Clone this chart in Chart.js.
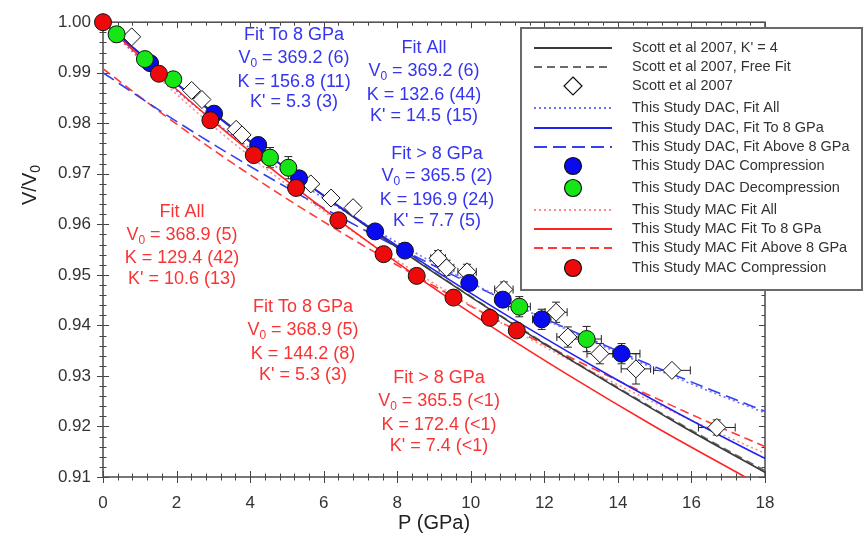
<!DOCTYPE html>
<html>
<head>
<meta charset="utf-8">
<script src="https://cdn.jsdelivr.net/npm/chart.js@4.4.1/dist/chart.umd.min.js"></script>
<style>
  html, body { margin: 0; padding: 0; background: #fff; }
</style>
</head>
<body>
<canvas id="eos" width="865" height="539"></canvas>
<script>
// ---- measured points (P in GPa, V/V0) ----
var macP  = [0, 1.52, 2.92, 4.10, 5.25, 6.40, 7.63, 8.53, 9.53, 10.52, 11.25];
var macV  = [1.0000, 0.9898, 0.9806, 0.9737, 0.9672, 0.9608, 0.9541, 0.9498, 0.9455, 0.9415, 0.9390];

var dacCompP = [1.28, 3.02, 4.22, 5.33, 7.40, 8.21, 9.96, 10.87, 11.93, 14.10];
var dacCompV = [0.9919, 0.9819, 0.9757, 0.9691, 0.9586, 0.9548, 0.9484, 0.9451, 0.9412, 0.9344];
var dacCompPErr = [0.05, 0.05, 0.05, 0.05, 0.1, 0.1, 0.15, 0.2, 0.25, 0.5];
var dacCompVErr = [0.0005, 0.0005, 0.0008, 0.001, 0.001, 0.001, 0.0015, 0.0015, 0.002, 0.002];

var dacDecP = [0.37, 1.14, 1.91, 4.54, 5.04, 11.32, 13.15];
var dacDecV = [0.9976, 0.9927, 0.9887, 0.9732, 0.9712, 0.9437, 0.9373];
var dacDecPErr = [0.05, 0.05, 0.05, 0.1, 0.1, 0.3, 0.4];
var dacDecVErr = [0.0015, 0.001, 0.001, 0.002, 0.0022, 0.002, 0.0025];

var scottP = [0.78, 2.41, 2.69, 3.62, 3.78, 5.65, 6.20, 6.80, 9.11, 9.34, 9.90, 10.90, 12.32, 12.64, 13.51, 14.49, 15.47, 16.69];
var scottV = [0.9971, 0.9865, 0.9847, 0.9788, 0.9777, 0.9680, 0.9652, 0.9633, 0.9533, 0.9514, 0.9506, 0.9471, 0.9426, 0.9377, 0.9344, 0.9314, 0.9311, 0.9198];
var scottPErr = [0.1, 0.1, 0.1, 0.1, 0.1, 0.15, 0.15, 0.15, 0.2, 0.2, 0.25, 0.25, 0.3, 0.3, 0.35, 0.4, 0.5, 0.5];
var scottVErr = [0.0008, 0.0008, 0.0008, 0.0008, 0.0008, 0.001, 0.001, 0.001, 0.0015, 0.0015, 0.0015, 0.0015, 0.002, 0.002, 0.002, 0.003, 0.001, 0.0015];

// ---- fitted EOS curves ----
var eosV      = [1.00, 0.99, 0.98, 0.97, 0.96, 0.95, 0.94, 0.93, 0.92, 0.91];
var scottK4P  = [0, 1.64, 3.37, 5.18, 7.09, 9.09, 11.20, 13.43, 15.76, 18.23];
var scottFreeP= [0, 1.64, 3.37, 5.19, 7.10, 9.11, 11.23, 13.47, 15.82, 18.31];
var dacAllP   = [0, 1.43, 3.09, 4.99, 7.15, 9.60, 12.37, 15.47, 18.95];
var dacTo8P   = [0, 1.62, 3.34, 5.18, 7.13, 9.21, 11.43, 13.79, 16.31, 18.99];
var dacAbvP   = [0, 2.06, 4.30, 6.74, 9.39, 12.27, 15.40, 18.80];
var dacAbvV   = [0.9900, 0.9801, 0.9702, 0.9603, 0.9504, 0.9405, 0.9306, 0.9207];
var macAllP   = [0, 1.37, 2.90, 4.61, 6.51, 8.62, 10.95, 13.52, 16.36, 19.47];
var macTo8P   = [0, 1.49, 3.07, 4.76, 6.56, 8.47, 10.51, 12.69, 15.00, 17.46];
var macAbvP   = [0, 1.80, 3.75, 5.87, 8.17, 10.67, 13.37, 16.30, 19.46];
var macAbvV   = [0.9908, 0.9809, 0.9710, 0.9611, 0.9512, 0.9412, 0.9313, 0.9214, 0.9115];

var FONT = '"Liberation Sans", Arial, sans-serif';
var BLUE = '#2323ee', RED = '#ff2424', TBLUE = '#3434f2', TRED = '#f83434';

function pts(p, v) {
  return p.map(function(x, i) { return {x: x, y: v[i]}; });
}
function curve(label, p, v, color, dash, order) {
  return {label: label, data: pts(p, v), showLine: true, borderColor: color, borderWidth: 1.6,
          borderDash: dash, pointRadius: 0, cubicInterpolationMode: 'monotone', order: order, kind: 'line'};
}
function marks(label, p, v, fill, style, r, order, pe, ve) {
  return {label: label, data: pts(p, v), showLine: false, pointStyle: style, pointRadius: r,
          pointBackgroundColor: fill, pointBorderColor: '#111', pointBorderWidth: 1, clip: false,
          order: order, kind: 'mark', xErr: pe, yErr: ve};
}

var datasets = [
  curve("Scott et al 2007, K' = 4", scottK4P, eosV, '#3a3a3a', [], 10),
  curve('Scott et al 2007, Free Fit', scottFreeP, eosV, '#6a6a6a', [8, 5], 11),
  marks('Scott et al 2007', scottP, scottV, '#fff', 'rectRot', 9, 4, scottPErr, scottVErr),
  curve('This Study DAC, Fit All', dacAllP, eosV, '#7070ff', [2, 3], 12),
  curve('This Study DAC, Fit To 8 GPa', dacTo8P, eosV, BLUE, [], 9),
  curve('This Study DAC, Fit Above 8 GPa', dacAbvP, dacAbvV, '#3340ee', [13, 6], 13),
  marks('This Study DAC Compression', dacCompP, dacCompV, '#0a0aee', 'circle', 8.5, 2, dacCompPErr, dacCompVErr),
  marks('This Study DAC Decompression', dacDecP, dacDecV, '#16e616', 'circle', 8.5, 1, dacDecPErr, dacDecVErr),
  curve('This Study MAC Fit All', macAllP, eosV, '#ff8a8a', [2, 3], 14),
  curve('This Study MAC Fit To 8 GPa', macTo8P, eosV, RED, [], 8),
  curve('This Study MAC Fit Above 8 GPa', macAbvP, macAbvV, '#ff3a3a', [9, 5], 15),
  marks('This Study MAC Compression', macP, macV, '#ee0a0a', 'circle', 8.5, 0)
];

// annotation blocks: centre x, line centre y list, lines
var notes = [
  {c: TBLUE, x: 294, y: [35, 58, 82, 102], t: ['Fit To 8 GPa', ['V', '0', ' = 369.2 (6)'], 'K = 156.8 (11)', "K' = 5.3 (3)"]},
  {c: TBLUE, x: 424, y: [48, 71, 95, 116], t: ['Fit All', ['V', '0', ' = 369.2 (6)'], 'K = 132.6 (44)', "K' = 14.5 (15)"]},
  {c: TBLUE, x: 437, y: [154, 176, 200, 221], t: ['Fit > 8 GPa', ['V', '0', ' = 365.5 (2)'], 'K = 196.9 (24)', "K' = 7.7 (5)"]},
  {c: TRED, x: 182, y: [212, 235, 258, 279], t: ['Fit All', ['V', '0', ' = 368.9 (5)'], 'K = 129.4 (42)', "K' = 10.6 (13)"]},
  {c: TRED, x: 303, y: [307, 330, 354, 375], t: ['Fit To 8 GPa', ['V', '0', ' = 368.9 (5)'], 'K = 144.2 (8)', "K' = 5.3 (3)"]},
  {c: TRED, x: 439, y: [378, 401, 425, 446], t: ['Fit > 8 GPa', ['V', '0', ' = 365.5 (<1)'], 'K = 172.4 (<1)', "K' = 7.4 (<1)"]}
];

var legendRowY = [48, 67, 86, 108, 128, 147, 166, 188, 210, 229, 248, 268];

function seg(ctx, x1, y1, x2, y2) {
  ctx.beginPath(); ctx.moveTo(x1, y1); ctx.lineTo(x2, y2); ctx.stroke();
}

// draws text with optional subscript, centred on cx
function rich(ctx, parts, cx, cy, size) {
  if (typeof parts === 'string') parts = [parts];
  var big = size + 'px ' + FONT, small = Math.round(size * 0.68) + 'px ' + FONT;
  var w = 0, widths = [];
  parts.forEach(function(s, i) {
    ctx.font = (i === 1 && parts.length === 3) ? small : big;
    widths.push(ctx.measureText(s).width); w += widths[i];
  });
  var x = cx - w / 2;
  parts.forEach(function(s, i) {
    var sub = (i === 1 && parts.length === 3);
    ctx.font = sub ? small : big;
    ctx.fillText(s, x, cy + (sub ? size * 0.32 : 0));
    x += widths[i];
  });
}

var decor = {
  id: 'decor',
  beforeDatasetsDraw: function(chart) {
    var ctx = chart.ctx, xs = chart.scales.x, ys = chart.scales.y, a = chart.chartArea;
    ctx.save();
    ctx.beginPath(); ctx.rect(a.left, a.top, a.right - a.left, a.bottom - a.top); ctx.clip();
    ctx.strokeStyle = '#222'; ctx.lineWidth = 1;
    chart.data.datasets.forEach(function(ds) {
      if (!ds.xErr) return;
      ds.data.forEach(function(p, i) {
        var px = xs.getPixelForValue(p.x), py = ys.getPixelForValue(p.y);
        var l = xs.getPixelForValue(p.x - ds.xErr[i]), r = xs.getPixelForValue(p.x + ds.xErr[i]);
        seg(ctx, l, py, r, py); seg(ctx, l, py - 4, l, py + 4); seg(ctx, r, py - 4, r, py + 4);
        var t = ys.getPixelForValue(p.y + ds.yErr[i]), b = ys.getPixelForValue(p.y - ds.yErr[i]);
        seg(ctx, px, t, px, b); seg(ctx, px - 4, t, px + 4, t); seg(ctx, px - 4, b, px + 4, b);
      });
    });
    // frame and ticks under the markers
    ctx.restore();
    ctx.save();
    ctx.strokeStyle = '#444'; ctx.lineWidth = 1;
    for (var i = 0; i <= 45; i++) {
      var px = Math.round(xs.getPixelForValue(i * 0.4)) + 0.5, L = (i % 5 === 0) ? 6 : 3.5;
      seg(ctx, px, a.bottom - L, px, a.bottom + L);
      seg(ctx, px, a.top, px, a.top + L);
    }
    for (var j = 0; j <= 45; j++) {
      var py = Math.round(ys.getPixelForValue(0.91 + j * 0.002)) + 0.5, M = (j % 5 === 0) ? 6 : 3.5;
      seg(ctx, a.left - M, py, a.left + M, py);
      seg(ctx, a.right - M, py, a.right, py);
    }
    ctx.strokeStyle = '#4a4a4a'; ctx.lineWidth = 1.5;
    ctx.strokeRect(a.left, a.top, a.right - a.left, a.bottom - a.top);
    ctx.restore();
  },
  afterDatasetsDraw: function(chart) {
    var ctx = chart.ctx;
    ctx.save();
    // fit annotations
    ctx.textBaseline = 'middle';
    notes.forEach(function(n) {
      ctx.fillStyle = n.c;
      n.t.forEach(function(line, k) { rich(ctx, line, n.x, n.y[k], 18); });
    });

    // legend
    ctx.fillStyle = '#fff'; ctx.fillRect(521, 28, 341, 262);
    ctx.strokeStyle = '#6a6a6a'; ctx.lineWidth = 2; ctx.strokeRect(521, 28, 341, 262);
    chart.data.datasets.forEach(function(ds, k) {
      var y = legendRowY[k];
      if (ds.kind === 'line') {
        ctx.strokeStyle = ds.borderColor; ctx.lineWidth = 2; ctx.setLineDash(ds.borderDash);
        seg(ctx, 534, y, 612, y); ctx.setLineDash([]);
      } else {
        ctx.fillStyle = ds.pointBackgroundColor; ctx.strokeStyle = '#111'; ctx.lineWidth = 1.2;
        ctx.beginPath();
        if (ds.pointStyle === 'circle') ctx.arc(573, y, 8.5, 0, Math.PI * 2);
        else { ctx.moveTo(573, y - 9); ctx.lineTo(582, y); ctx.lineTo(573, y + 9); ctx.lineTo(564, y); ctx.closePath(); }
        ctx.fill(); ctx.stroke();
      }
      ctx.fillStyle = '#333'; ctx.font = '14.5px ' + FONT; ctx.textAlign = 'left';
      ctx.fillText(ds.label, 632, y);
    });

    // y axis title with subscript
    ctx.translate(30, 185); ctx.rotate(-Math.PI / 2);
    ctx.fillStyle = '#222';
    rich(ctx, ['V/V', '0', ''], 0, 0, 20);
    ctx.restore();
  }
};

new Chart(document.getElementById('eos'), {
  type: 'scatter',
  data: {datasets: datasets},
  options: {
    responsive: false,
    animation: false,
    layout: {padding: {top: 16, right: 100, left: 0, bottom: 0}},
    plugins: {legend: {display: false}, tooltip: {enabled: false}},
    scales: {
      x: {
        type: 'linear', min: 0, max: 18,
        ticks: {stepSize: 2, padding: 16, color: '#333', font: {family: FONT, size: 17}},
        grid: {display: false, drawTicks: false},
        border: {display: false},
        title: {display: true, text: 'P (GPa)', color: '#222', font: {family: FONT, size: 20}, padding: {top: 0, bottom: 4}},
        afterFit: function(s) { s.height = 62; }
      },
      y: {
        type: 'linear', min: 0.91, max: 1.00,
        ticks: {stepSize: 0.01, padding: 12, color: '#333', font: {family: FONT, size: 17},
                callback: function(v) { return v.toFixed(2); }},
        grid: {display: false, drawTicks: false},
        border: {display: false},
        afterFit: function(s) { s.width = 103; }
      }
    }
  },
  plugins: [decor]
});
</script>
</body>
</html>
